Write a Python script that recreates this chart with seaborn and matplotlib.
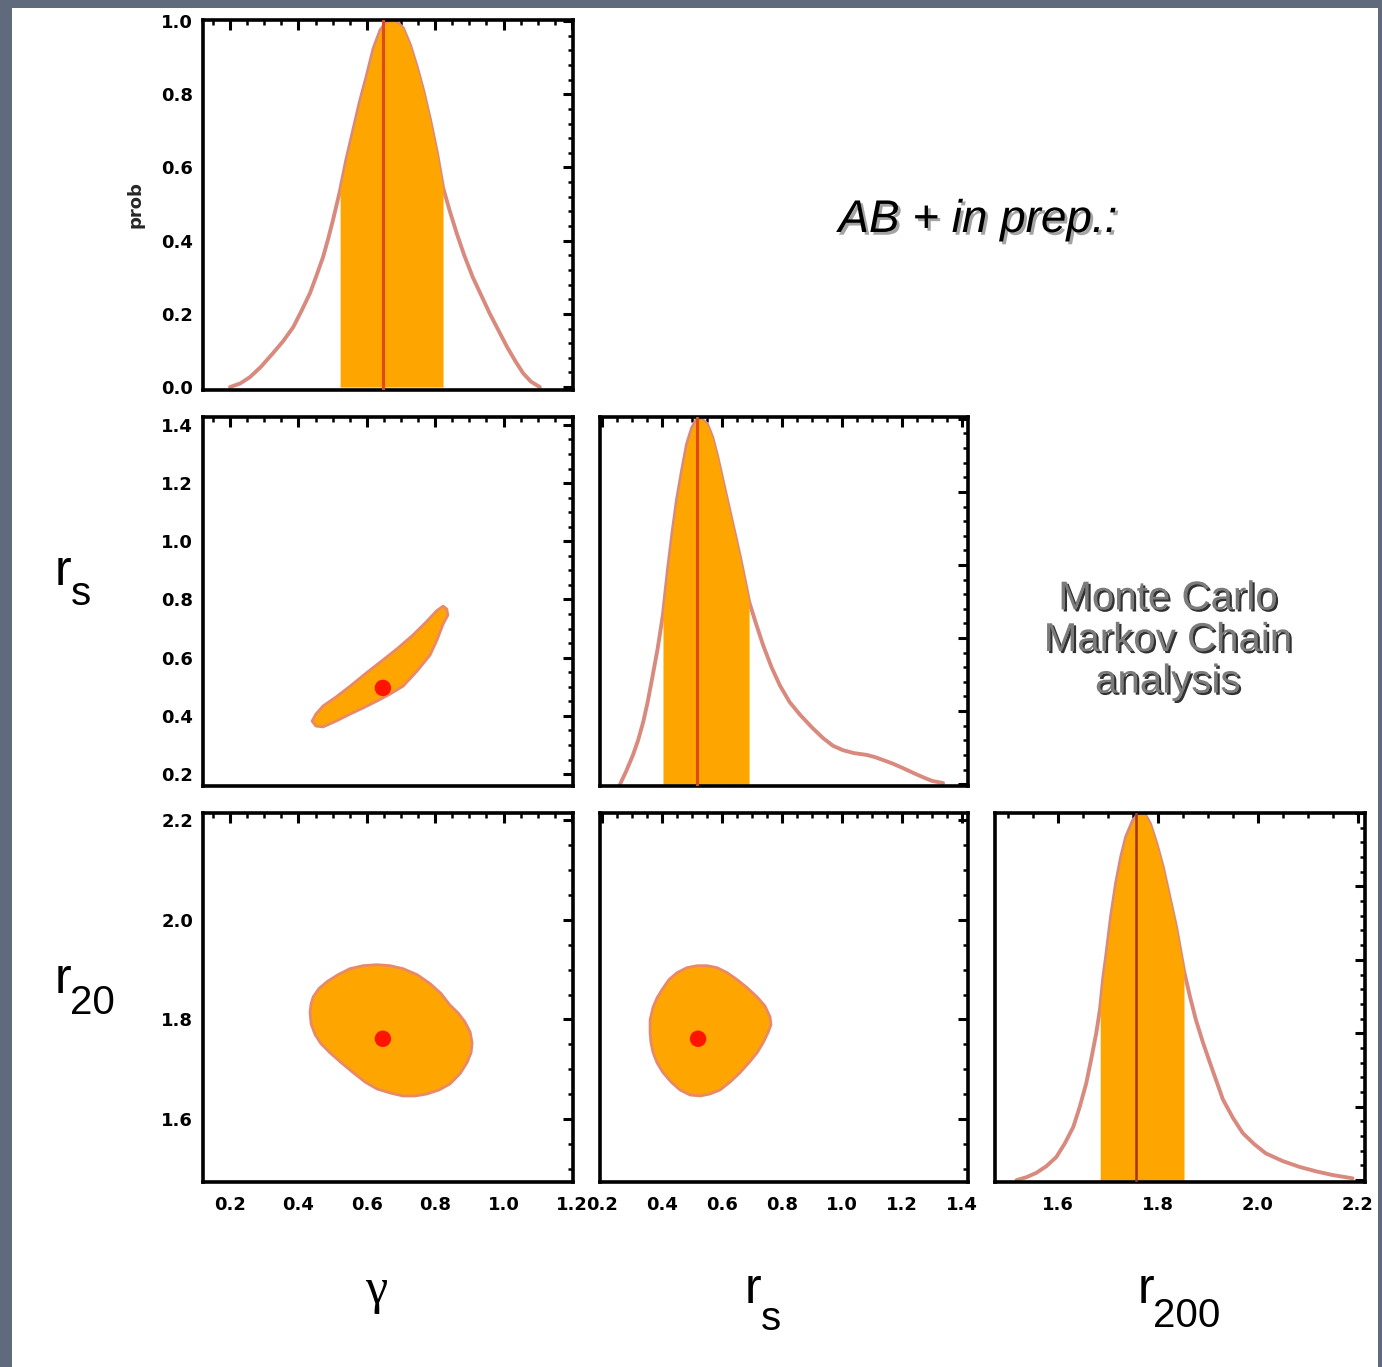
import matplotlib
matplotlib.use("Agg")
import numpy as np
import matplotlib.pyplot as plt
import seaborn as sns
from matplotlib.ticker import MultipleLocator
from matplotlib.patches import Rectangle
from matplotlib import font_manager, patheffects

# --- marginal posteriors ---
gamma_x = [0.20, 0.23, 0.258, 0.29, 0.326, 0.355, 0.385, 0.41, 0.434, 0.453, 0.472, 0.487,
           0.501, 0.522, 0.54, 0.56, 0.58, 0.60, 0.62, 0.64, 0.655, 0.67, 0.69, 0.706,
           0.726, 0.746, 0.765, 0.785, 0.805, 0.823, 0.843, 0.863, 0.885, 0.91, 0.935,
           0.96, 0.985, 1.01, 1.035, 1.057, 1.08, 1.106]
gamma_p = [0.0, 0.01, 0.027, 0.055, 0.093, 0.125, 0.164, 0.21, 0.257, 0.305, 0.355, 0.405,
           0.456, 0.538, 0.62, 0.70, 0.78, 0.85, 0.925, 0.975, 0.993, 1.0, 0.995, 0.98,
           0.935, 0.875, 0.81, 0.73, 0.64, 0.545, 0.48, 0.42, 0.36, 0.30, 0.25,
           0.20, 0.155, 0.11, 0.07, 0.038, 0.015, 0.0]

rs_x = [0.26, 0.28, 0.303, 0.32, 0.337, 0.352, 0.367, 0.385, 0.403, 0.42, 0.435, 0.45,
        0.467, 0.483, 0.50, 0.517, 0.533, 0.55, 0.567, 0.583, 0.605, 0.627, 0.645, 0.66,
        0.675, 0.69, 0.713, 0.737, 0.765, 0.793, 0.825, 0.86, 0.90, 0.937, 0.97, 1.003,
        1.04, 1.083, 1.11, 1.137, 1.17, 1.203, 1.237, 1.27, 1.30, 1.337]
rs_p = [0.0, 0.035, 0.08, 0.12, 0.17, 0.225, 0.29, 0.37, 0.465, 0.59, 0.69, 0.78,
        0.86, 0.93, 0.975, 1.0, 0.998, 0.985, 0.95, 0.90, 0.82, 0.74, 0.675, 0.62,
        0.56, 0.50, 0.44, 0.38, 0.32, 0.27, 0.225, 0.19, 0.155, 0.126, 0.105, 0.093,
        0.085, 0.08, 0.074, 0.066, 0.056, 0.044, 0.031, 0.019, 0.009, 0.003]

r200_x = [1.516, 1.536, 1.556, 1.576, 1.596, 1.613, 1.63, 1.643, 1.656, 1.666, 1.676, 1.684,
          1.69, 1.696, 1.706, 1.716, 1.726, 1.736, 1.75, 1.764, 1.774, 1.784, 1.797, 1.81,
          1.823, 1.836, 1.852, 1.864, 1.876, 1.89, 1.904, 1.917, 1.93, 1.95, 1.97, 1.993,
          2.016, 2.05, 2.084, 2.117, 2.15, 2.19]
r200_p = [0.0, 0.008, 0.02, 0.038, 0.063, 0.10, 0.145, 0.20, 0.264, 0.33, 0.40, 0.47,
          0.55, 0.61, 0.72, 0.81, 0.88, 0.935, 0.98, 1.0, 0.995, 0.97, 0.915, 0.85,
          0.77, 0.69, 0.57, 0.50, 0.436, 0.375, 0.32, 0.27, 0.22, 0.17, 0.128, 0.098,
          0.073, 0.052, 0.036, 0.024, 0.014, 0.005]

# credible intervals and marginal peaks
gamma_ci = [0.522, 0.823]
rs_ci = [0.403, 0.69]
r200_ci = [1.684, 1.852]
gamma_peak, rs_peak, r200_peak = 0.647, 0.517, 1.756

# --- 2D credible regions (contour outlines) ---
grs_g = [0.44, 0.451, 0.472, 0.51, 0.551, 0.598, 0.647, 0.691, 0.735, 0.773, 0.805, 0.823,
         0.834, 0.837, 0.823, 0.805, 0.785, 0.747, 0.706, 0.668, 0.63, 0.589, 0.551, 0.51,
         0.472, 0.451]
grs_r = [0.382, 0.406, 0.434, 0.465, 0.502, 0.547, 0.592, 0.633, 0.678, 0.722, 0.762, 0.777,
         0.767, 0.746, 0.715, 0.66, 0.609, 0.554, 0.502, 0.475, 0.451, 0.427, 0.406, 0.382,
         0.362, 0.365]

gr200_g = [0.434, 0.437, 0.443, 0.46, 0.484, 0.516, 0.551, 0.589, 0.63, 0.668, 0.706, 0.747,
           0.785, 0.817, 0.843, 0.867, 0.887, 0.902, 0.908, 0.905, 0.893, 0.873, 0.843, 0.811,
           0.776, 0.741, 0.706, 0.668, 0.63, 0.595, 0.56, 0.525, 0.492, 0.466, 0.449, 0.437]
gr200_r = [1.815, 1.831, 1.845, 1.862, 1.876, 1.89, 1.902, 1.908, 1.91, 1.908, 1.902, 1.89,
           1.872, 1.852, 1.829, 1.813, 1.795, 1.775, 1.753, 1.733, 1.713, 1.691, 1.67, 1.658,
           1.65, 1.646, 1.646, 1.652, 1.66, 1.674, 1.693, 1.713, 1.733, 1.751, 1.769, 1.791]

rsr200_s = [0.36, 0.36, 0.37, 0.383, 0.40, 0.423, 0.45, 0.483, 0.517, 0.55, 0.583, 0.617,
            0.65, 0.683, 0.717, 0.743, 0.76, 0.763, 0.753, 0.737, 0.717, 0.69, 0.66, 0.627,
            0.593, 0.56, 0.527, 0.493, 0.46, 0.43, 0.403, 0.383, 0.37, 0.363]
rsr200_r = [1.773, 1.799, 1.825, 1.843, 1.86, 1.88, 1.894, 1.904, 1.908, 1.908, 1.904, 1.894,
            1.88, 1.864, 1.845, 1.827, 1.805, 1.789, 1.773, 1.753, 1.733, 1.713, 1.693, 1.674,
            1.658, 1.65, 1.646, 1.648, 1.658, 1.674, 1.693, 1.713, 1.733, 1.753]

best_gamma = [0.647, 0.647]
best_rs = [0.496, 0.52]
best_r200 = [1.761, 1.761]

ORANGE = "#FFA500"
CURVE = "#D98A7E"
EDGE = "#E8896A"
MEDLINE = "#E04A1A"

sns.set_theme(style="white")
names = {f.name for f in font_manager.fontManager.ttflist}
tick_font = "Liberation Sans Narrow" if "Liberation Sans Narrow" in names else "DejaVu Sans"
tick_size = 18 if tick_font == "Liberation Sans Narrow" else 13
plt.rcParams["font.family"] = ["Liberation Sans", "DejaVu Sans"]

W, H = 1382, 1367
fig = plt.figure(figsize=(W / 100, H / 100), dpi=100)
fig.patch.set_facecolor("#5f6b7c")
fig.add_artist(Rectangle((12 / W, 0), (1378 - 12) / W, 1 - 8 / H,
                         transform=fig.transFigure, facecolor="white", edgecolor="none", zorder=0))

cols = [(203, 573), (600, 968), (995, 1365)]
rows = [(20, 390), (417, 786), (813, 1182)]


def make_ax(r, c):
    x0, x1 = cols[c]
    y0, y1 = rows[r]
    ax = fig.add_axes([x0 / W, 1 - y1 / H, (x1 - x0) / W, (y1 - y0) / H])
    ax.set_facecolor("white")
    for s in ax.spines.values():
        s.set_linewidth(2.6)
        s.set_color("black")
    ax.tick_params(which="both", direction="in", top=True, right=True, colors="black")
    ax.tick_params(which="major", length=7, width=2.2, pad=7)
    ax.tick_params(which="minor", length=3.5, width=1.8)
    ax.tick_params(axis="x", pad=10)
    return ax


def style_ticks(ax, xlim, ylim, xmaj, xmin, ymaj, ymin, xlab, ylab):
    ax.set_xlim(*xlim)
    ax.set_ylim(*ylim)
    ax.xaxis.set_major_locator(MultipleLocator(xmaj))
    ax.xaxis.set_minor_locator(MultipleLocator(xmin))
    ax.yaxis.set_major_locator(MultipleLocator(ymaj))
    ax.yaxis.set_minor_locator(MultipleLocator(ymin))
    ax.xaxis.set_major_formatter(lambda v, p: f"{v:.1f}")
    ax.yaxis.set_major_formatter(lambda v, p: f"{v:.1f}")
    if not xlab:
        ax.set_xticklabels([])
    if not ylab:
        ax.set_yticklabels([])
    for t in ax.get_xticklabels() + ax.get_yticklabels():
        t.set_fontfamily(tick_font)
        t.set_fontweight("heavy")
        t.set_fontsize(tick_size)
    ax.set_xlabel("")
    ax.set_ylabel("")


def marginal(ax, x, p, ci, peak, line_color=MEDLINE, lw=2.2):
    xa, pa = np.array(x), np.array(p)
    mask = (xa >= ci[0]) & (xa <= ci[1])
    sns.lineplot(x=x, y=p, ax=ax, color=CURVE, lw=2.8, zorder=1)
    ax.fill_between(xa, 0, pa, where=mask, color=ORANGE, lw=0, zorder=2)
    ax.axvline(peak, ymin=0, ymax=1, color=line_color, lw=lw, zorder=3)


def region(ax, x, y):
    ax.fill(x, y, facecolor=ORANGE, edgecolor=EDGE, lw=2, joinstyle="round", zorder=1)


lim_g = (0.121, 1.203)
lim_rs_x = (0.193, 1.42)
lim_rs_y = (0.159, 1.427)
lim_r200 = (1.473, 2.215)

# row 1: gamma marginal
ax = make_ax(0, 0)
marginal(ax, gamma_x, gamma_p, gamma_ci, gamma_peak)
style_ticks(ax, lim_g, (-0.008, 1.003), 0.2, 0.05, 0.2, 0.04, False, True)
ax.set_ylabel("prob", fontsize=13, fontweight="heavy", family=tick_font, labelpad=12)

# row 2: gamma vs r_s, r_s marginal
ax = make_ax(1, 0)
region(ax, grs_g, grs_r)
sns.scatterplot(x=best_gamma[:1], y=best_rs[:1], ax=ax, color="#FF1400", s=140,
                edgecolor="none", zorder=3)
style_ticks(ax, lim_g, lim_rs_y, 0.2, 0.05, 0.2, 0.05, False, True)

ax = make_ax(1, 1)
marginal(ax, rs_x, rs_p, rs_ci, rs_peak)
style_ticks(ax, lim_rs_x, (-0.005, 1.005), 0.2, 0.05, 0.2, 0.04, False, False)

# row 3: r200 against gamma and r_s, r200 marginal
ax = make_ax(2, 0)
region(ax, gr200_g, gr200_r)
sns.scatterplot(x=best_gamma[1:], y=best_r200[:1], ax=ax, color="#FF1400", s=140,
                edgecolor="none", zorder=3)
style_ticks(ax, lim_g, lim_r200, 0.2, 0.05, 0.2, 0.05, True, True)

ax = make_ax(2, 1)
region(ax, rsr200_s, rsr200_r)
sns.scatterplot(x=best_rs[1:], y=best_r200[1:], ax=ax, color="#FF1400", s=140,
                edgecolor="none", zorder=3)
style_ticks(ax, lim_rs_x, lim_r200, 0.2, 0.05, 0.2, 0.05, True, False)

ax = make_ax(2, 2)
marginal(ax, r200_x, r200_p, r200_ci, r200_peak, line_color="#A8321A", lw=1.8)
style_ticks(ax, lim_r200, (-0.005, 1.0), 0.2, 0.05, 0.2, 0.04, True, False)


def px_text(x, y, s, **kw):
    return fig.text(x / W, 1 - y / H, s, **kw)


# parameter names
sym = dict(color="black", va="baseline", ha="left")
px_text(55, 585, "r", fontsize=36, **sym)
px_text(71, 605, "s", fontsize=29, **sym)
px_text(55, 993, "r", fontsize=36, **sym)
px_text(70, 1014, "20", fontsize=29, **sym)
px_text(376, 1303, "γ", fontsize=36, color="black", va="baseline", ha="center",
        family=["Liberation Serif", "DejaVu Serif"])
px_text(745, 1303, "r", fontsize=36, **sym)
px_text(761, 1330, "s", fontsize=29, **sym)
px_text(1138, 1303, "r", fontsize=36, **sym)
px_text(1153, 1327, "200", fontsize=29, **sym)

# slide annotations
px_text(978, 220, "AB + in prep.:", fontsize=33, style="italic", color="black",
        ha="center", va="center",
        path_effects=[patheffects.SimplePatchShadow(offset=(2, -2), shadow_rgbFace="#9a9a9a", alpha=0.9),
                      patheffects.Normal()])
px_text(1168, 640, "Monte Carlo\nMarkov Chain\nanalysis", fontsize=29, color="#7b7b7b",
        ha="center", va="center", multialignment="center", linespacing=1.12,
        path_effects=[patheffects.SimplePatchShadow(offset=(1.5, -1.5), shadow_rgbFace="#1a1a1a", alpha=0.9),
                      patheffects.Normal()])

fig.savefig("out.png", dpi=100, facecolor=fig.get_facecolor())
